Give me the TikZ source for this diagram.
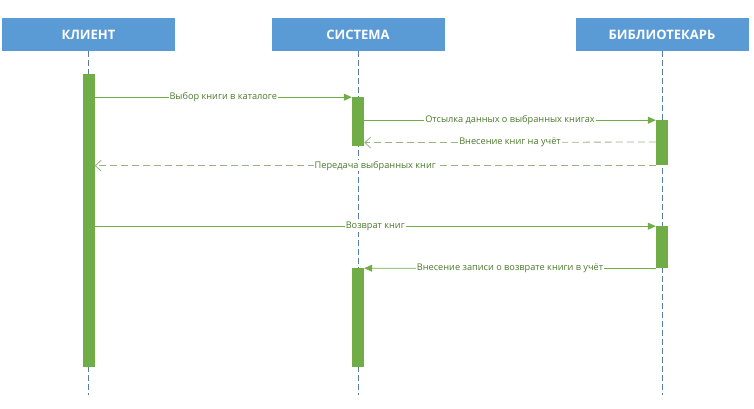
\documentclass[tikz,border=0pt]{standalone}
\usepackage{fontspec}
\setmainfont{Open Sans}
\usetikzlibrary{arrows.meta,positioning}
\definecolor{hdrblue}{HTML}{5B9BD5}
\definecolor{actgreen}{HTML}{70AD47}
\definecolor{txtgreen}{HTML}{4C7A2C}
\definecolor{retgreen}{HTML}{9AB287}
\definecolor{lifeblue}{HTML}{5A7BA3}

\begin{document}
\begin{tikzpicture}[x=1pt,y=-1pt,
    head/.style={fill=hdrblue,text=white,font=\bfseries\fontsize{13}{15}\selectfont,minimum width=173pt,minimum height=33pt,inner sep=0pt},
    life/.style={draw=lifeblue,dash pattern=on 6pt off 3pt,line width=0.6pt},
    act/.style={fill=actgreen,minimum width=12pt,inner sep=0pt},
    call/.style={draw=actgreen,line width=0.8pt,-{Triangle[length=8pt,width=7pt]}},
    reply/.style={draw=retgreen,line width=0.8pt,dash pattern=on 7pt off 4pt,-{Straight Barb[length=6pt,width=11pt]}},
    msg/.style={fill=white,text=txtgreen,font=\fontsize{9.2}{11}\selectfont,inner sep=1pt}]
    \useasboundingbox (0,0) rectangle (754,408);
    % participants
    \node[head] (klient) at (88.5,34.5) {КЛИЕНТ};
    \node[head] (sistema) at (358,34.5) {СИСТЕМА};
    \node[head] (bibl) at (662,34.5) {БИБЛИОТЕКАРЬ};
    \foreach \p in {klient,sistema,bibl}
      \draw[life] (\p.south) -- ++(0,344);
    % activations
    \node[act,minimum height=293pt,below=23pt of klient] (k1) {};
    \node[act,minimum height=49pt,below=46pt of sistema] (s1) {};
    \node[act,minimum height=99pt,below=217pt of sistema] (s2) {};
    \node[act,minimum height=45pt,below=69pt of bibl] (b1) {};
    \node[act,minimum height=42pt,below=175pt of bibl] (b2) {};
    % messages
    \draw[call] (k1.east |- s1.north) -- node[msg] {Выбор книги в каталоге} (s1.north west);
    \draw[call] (s1.east |- b1.north) -- node[msg] {Отсылка данных о выбранных книгах} (b1.north west);
    \draw[reply] (b1.west |- 0,142) -- node[msg] {Внесение книг на учёт} ([yshift=4pt]s1.south east);
    \draw[reply] (b1.south west) -- node[msg] {Передача выбранных книг} (k1.east |- b1.south);
    \draw[call] (k1.east |- b2.north) -- node[msg] {Возврат книг} (b2.north west);
    \draw[call] (b2.south west) -- node[msg] {Внесение записи о возврате книги в учёт} (s2.north east);
\end{tikzpicture}
\end{document}
